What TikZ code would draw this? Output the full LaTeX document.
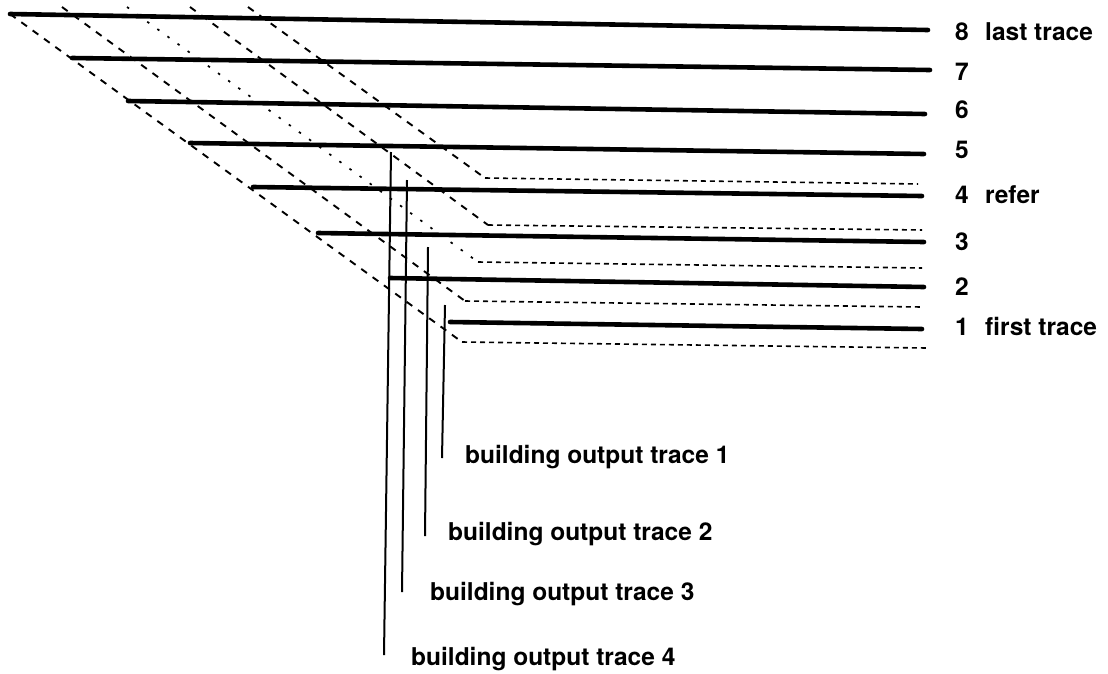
\documentclass[tikz,border=0pt]{standalone}
\usepackage{fontspec}
\setmainfont{TeX Gyre Heros}
\usetikzlibrary{positioning}

\tikzset{
  trace/.style={line width=4.6pt, line cap=round},
  shifted/.style={line width=1.6pt, dash pattern=on 5pt off 4pt},
  slant/.style={line width=1.9pt, dash pattern=on 7pt off 7pt},
  slantdot/.style={line width=1.7pt, dash pattern=on 2.5pt off 10pt},
  stack/.style={line width=2pt},
  lab/.style={anchor=base west, inner sep=0pt, font=\fontsize{24.5}{29}\selectfont\bfseries}
}

\begin{document}
\begin{tikzpicture}[x=1pt,y=-1pt]
    \useasboundingbox (0,0) rectangle (1108,673);
    % input traces, first to last
    \foreach \i/\xa/\ya/\xb/\yb in {1/450/322/922/329, 2/390/278/924/287, 3/318/233/924/242,
        4/253/187/922/196, 5/190/143/924/154, 6/128/101/925/114, 7/72/58/930/70, 8/10/14/928/30} {
        \coordinate (t\i a) at (\xa,\ya);
        \coordinate (t\i b) at (\xb,\yb);
        \draw[trace] (t\i a) -- (t\i b);
    }
    % shifted traces: slanted part, then flat part
    \foreach \j/\xa/\ya/\xc/\yc/\xb/\yb in {1/10/14/462/342/927/348, 2/62/7/465/301/922/307,
        3/127/7/478/262/922/268, 4/190/7/488/225/922/230, 5/248/7/485/178/918/184} {
        \coordinate (s\j a) at (\xa,\ya);
        \coordinate (s\j c) at (\xc,\yc);
        \coordinate (s\j b) at (\xb,\yb);
        \draw[shifted] (s\j c) -- (s\j b);
    }
    \draw[slant] (s1a) -- (s1c);
    \draw[slant] (s2a) -- (s2c);
    \draw[slantdot] (s3a) -- (s3c);
    \draw[slant] (s4a) -- (s4c);
    \draw[slant] (s5a) -- (s5c);
    % trace numbers
    \foreach \i/\yl/\txt in {8/40/last trace, 7/80/{}, 6/118/{}, 5/158/{},
        4/203/refer, 3/250/{}, 2/295/{}, 1/335/first trace} {
        \node[lab] (lab\i) at (955,\yl) {\makebox[30pt][l]{\i}\txt};
    }
    % stacking of the output traces
    \foreach \k/\xt/\yt/\xb/\yb/\xl/\yl in {1/445/305/442/458/465/463, 2/428/247/425/536/448/540,
        3/407/180/402/592/430/600, 4/391/152/384/655/411/665} {
        \coordinate (v\k a) at (\xt,\yt);
        \coordinate (v\k b) at (\xb,\yb);
        \draw[stack] (v\k a) -- (v\k b);
        \node[lab] (out\k) at (\xl,\yl) {building output trace \k};
    }
\end{tikzpicture}
\end{document}
